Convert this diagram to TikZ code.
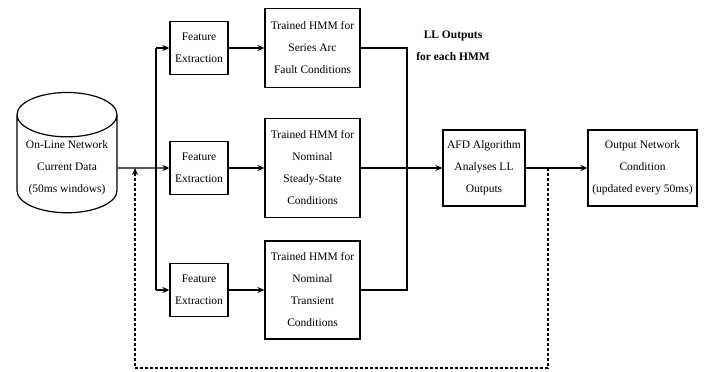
\documentclass[tikz,border=0pt]{standalone}
\usepackage{fontspec}
\setmainfont{Liberation Serif}
\tikzset{every picture/.style={line width=1.2pt, >={Stealth[length=7pt,width=6pt]}}}
\usetikzlibrary{arrows.meta}
\usetikzlibrary{shapes.geometric}

\begin{document}
\begin{tikzpicture}[x=1pt, y=-1pt, font=\fontsize{11.5}{22}\selectfont]
  \useasboundingbox (0,0) rectangle (705,372);

  \node [cylinder, draw, shape border rotate=90, aspect=0.5, minimum width=100, minimum height=116, align=center] (data) at (67,168) {On-Line Network\\Current Data\\(50ms windows)};

  \begin{scope}[every node/.style={draw, align=center, minimum width=58, minimum height=53}]
    \node (feat1) at (199,48) {Feature\\Extraction};
    \node (feat2) at (199,168) {Feature\\Extraction};
    \node (feat3) at (199,290) {Feature\\Extraction};
  \end{scope}

  \begin{scope}[every node/.style={draw, align=center, minimum width=95}]
    \node [minimum height=79] (hmm1) at (312.5,48) {Trained HMM for\\Series Arc\\Fault Conditions};
    \node [minimum height=99] (hmm2) at (312.5,168) {Trained HMM for\\Nominal\\Steady-State\\Conditions};
    \node [minimum height=98] (hmm3) at (312.5,290) {Trained HMM for\\Nominal\\Transient\\Conditions};
  \end{scope}

  \node [draw, align=center, minimum width=82, minimum height=76] (afd) at (484,168) {AFD Algorithm\\Analyses LL\\Outputs};
  \node [draw, align=center, minimum width=109, minimum height=76, inner sep=2pt] (out) at (642.5,168) {Output Network\\Condition\\(updated every 50ms)};
  \node [font=\bfseries\fontsize{11.5}{22}\selectfont, align=center] (ll) at (453,46) {LL Outputs\\for each HMM};

  \coordinate (splittop) at (156,48);
  \coordinate (splitbot) at (156,290);
  \coordinate (jointop) at (407,48);
  \coordinate (joinbot) at (407,290);
  \coordinate (tap) at (548,168);
  \coordinate (low) at (135,368);
  \coordinate (back) at (135,168);

  \draw (splittop) -- (splitbot);
  \draw [->] (data.east) -- (feat2);
  \draw [->] (splittop) -- (feat1);
  \draw [->] (splitbot) -- (feat3);
  \draw [->] (feat1) -- (hmm1);
  \draw [->] (feat2) -- (hmm2);
  \draw [->] (feat3) -- (hmm3);
  \draw (hmm1) -- (jointop) -- (joinbot) -- (hmm3);
  \draw [->] (hmm2) -- (afd);
  \draw [->] (afd) -- (out);
  \draw [->, dash pattern=on 3pt off 2pt] (tap) |- (low) -- (back);

\end{tikzpicture}
\end{document}
